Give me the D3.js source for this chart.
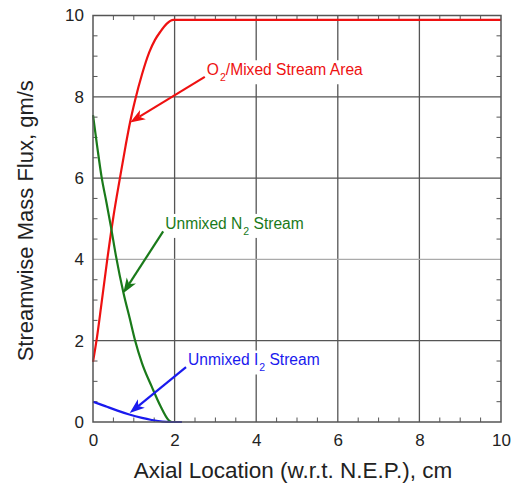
<!DOCTYPE html>
<html>
<head>
<meta charset="utf-8">
<script src="https://cdn.jsdelivr.net/npm/d3@7/dist/d3.min.js"></script>
<style>
  html, body { margin: 0; padding: 0; background: #fff; }
  svg { display: block; font-family: "Liberation Sans", Arial, Helvetica, sans-serif; }
</style>
</head>
<body>
<svg id="chart" width="522" height="489"></svg>
<script>
// Axial position (cm) and streamwise mass flux (gm/s) for each stream
const o2X = [0, 0.1, 0.2, 0.35, 0.5, 0.66, 0.8, 0.91, 1.03, 1.2, 1.38, 1.52, 1.65, 1.81, 1.97, 10];
const o2Y = [1.48, 2.1, 2.85, 4.0, 5.05, 6.0, 6.8, 7.38, 7.91, 8.55, 9.1, 9.4, 9.6, 9.8, 9.89, 9.89];

const n2X = [0, 0.1, 0.21, 0.33, 0.44, 0.56, 0.75, 0.9, 1.03, 1.2, 1.44, 1.65, 1.85, 1.92];
const n2Y = [7.55, 6.8, 6.03, 5.4, 4.8, 4.1, 3.16, 2.55, 2.01, 1.45, 0.87, 0.4, 0.05, 0];

const i2X = [0, 0.3, 0.6, 0.87, 1.2, 1.44, 1.7, 1.9, 2.18];
const i2Y = [0.5, 0.39, 0.28, 0.19, 0.1, 0.05, 0.01, 0, 0];

const xTicks = [0, 2, 4, 6, 8, 10];
const yTicks = [0, 2, 4, 6, 8, 10];
const xTickLabels = ["0", "2", "4", "6", "8", "10"];
const yTickLabels = ["0", "2", "4", "6", "8", "10"];

const xTitle = "Axial Location (w.r.t. N.E.P.), cm";
const yTitle = "Streamwise Mass Flux, gm/s";

// Callout labels: main text, subscript, trailing text
const calloutMain = ["O", "Unmixed N", "Unmixed I"];
const calloutSub = ["2", "2", "2"];
const calloutRest = ["/Mixed Stream Area", " Stream", " Stream"];

const svg = d3.select("#chart");
const plotL = 93, plotR = 501, plotT = 15.5, plotB = 422;

const x = d3.scaleLinear().domain([0, 10]).range([plotL, plotR]);
const y = d3.scaleLinear().domain([0, 10]).range([plotB, plotT]);

const gridColor = "#555";

// Major grid lines
svg.append("g").selectAll("line").data(xTicks.slice(1, -1)).join("line")
  .attr("x1", d => x(d)).attr("x2", d => x(d))
  .attr("y1", plotT).attr("y2", plotB)
  .attr("stroke", gridColor).attr("stroke-width", 1.3);
svg.append("g").selectAll("line").data(yTicks.slice(1, -1)).join("line")
  .attr("y1", d => y(d)).attr("y2", d => y(d))
  .attr("x1", plotL).attr("x2", plotR)
  .attr("stroke", d => d === 4 ? "#aaa" : gridColor).attr("stroke-width", 1.3);

// Minor ticks pointing inward on all four sides
const minor = d3.range(0.5, 10, 0.5).filter(v => v % 2 !== 0);
const tickLen = 4.5;
const mt = svg.append("g").attr("stroke", gridColor).attr("stroke-width", 1);
minor.forEach(v => {
  mt.append("line").attr("x1", x(v)).attr("x2", x(v)).attr("y1", plotB).attr("y2", plotB - tickLen);
  mt.append("line").attr("x1", x(v)).attr("x2", x(v)).attr("y1", plotT).attr("y2", plotT + tickLen);
  mt.append("line").attr("y1", y(v)).attr("y2", y(v)).attr("x1", plotL).attr("x2", plotL + tickLen);
  mt.append("line").attr("y1", y(v)).attr("y2", y(v)).attr("x1", plotR).attr("x2", plotR - tickLen);
});

// Axes with labels only (frame drawn separately)
const xAxis = d3.axisBottom(x).tickValues(xTicks).tickFormat((d, i) => xTickLabels[i]).tickSize(0).tickPadding(12);
const yAxis = d3.axisLeft(y).tickValues(yTicks).tickFormat((d, i) => yTickLabels[i]).tickSize(0).tickPadding(9);
const gx = svg.append("g").attr("transform", `translate(0,${plotB})`).call(xAxis);
const gy = svg.append("g").attr("transform", `translate(${plotL},0)`).call(yAxis);
[gx, gy].forEach(g => {
  g.select(".domain").remove();
  g.selectAll("text").attr("font-size", 17).attr("fill", "#222")
    .attr("font-family", "'Liberation Sans', Arial, sans-serif");
});

// Curves
const line = d3.line().x(d => x(d[0])).y(d => y(d[1])).curve(d3.curveMonotoneX);
const series = [
  { xs: o2X, ys: o2Y, color: "#ee1111" },
  { xs: n2X, ys: n2Y, color: "#1a7a1a" },
  { xs: i2X, ys: i2Y, color: "#1a1aee" }
];
series.forEach(s => {
  svg.append("path").datum(s.xs.map((v, i) => [v, s.ys[i]]))
    .attr("d", line).attr("fill", "none")
    .attr("stroke", s.color).attr("stroke-width", 2.2);
});

// Frame
svg.append("rect").attr("x", plotL).attr("y", plotT)
  .attr("width", plotR - plotL).attr("height", plotB - plotT)
  .attr("fill", "none").attr("stroke", gridColor).attr("stroke-width", 1.5);

// Callouts with arrows (positions in data units)
const callouts = [
  { text: [2.79, 8.53], from: [2.74, 8.49], to: [0.91, 7.37], color: "#ee1111" },
  { text: [1.77, 4.75], from: [1.72, 4.69], to: [0.74, 3.17], color: "#1a7a1a" },
  { text: [2.33, 1.39], from: [2.28, 1.35], to: [0.9, 0.22], color: "#1a1aee" }
];

callouts.forEach((c, i) => {
  const g = svg.append("g");
  const bg = g.append("rect").attr("fill", "#fff");
  const t = g.append("text")
    .attr("x", x(c.text[0])).attr("y", y(c.text[1]))
    .attr("fill", c.color).attr("font-size", 15.6);
  t.append("tspan").text(calloutMain[i]);
  t.append("tspan").attr("font-size", 10.5).attr("dy", 6).attr("dx", 1).text(calloutSub[i]);
  t.append("tspan").attr("dy", -6).text(calloutRest[i]);
  const bb = t.node().getBBox();
  bg.attr("x", bb.x - 2).attr("y", bb.y - 1).attr("width", bb.width + 4).attr("height", bb.height + 2);

  // Arrow shaft and head
  const x0 = x(c.from[0]), y0 = y(c.from[1]);
  const x1 = x(c.to[0]), y1 = y(c.to[1]);
  const ang = Math.atan2(y1 - y0, x1 - x0);
  const headLen = 15, headW = 5.5, notch = 11;
  const ux = Math.cos(ang), uy = Math.sin(ang);
  const px = -uy, py = ux;
  const bx = x1 - ux * headLen, by = y1 - uy * headLen;
  const nx = x1 - ux * notch, ny = y1 - uy * notch;
  svg.append("line").attr("x1", x0).attr("y1", y0).attr("x2", nx).attr("y2", ny)
    .attr("stroke", c.color).attr("stroke-width", 2.2);
  svg.append("path")
    .attr("d", `M${x1},${y1} L${bx + px * headW},${by + py * headW} L${nx},${ny} L${bx - px * headW},${by - py * headW} Z`)
    .attr("fill", c.color);
});

// Axis titles
svg.append("text").attr("x", (plotL + plotR) / 2 - 4).attr("y", 478)
  .attr("text-anchor", "middle").attr("font-size", 22.5).attr("fill", "#222").text(xTitle);
svg.append("text").attr("transform", `translate(33,${(plotT + plotB) / 2 + 2}) rotate(-90)`)
  .attr("text-anchor", "middle").attr("font-size", 22).attr("fill", "#222").text(yTitle);
</script>
</body>
</html>
